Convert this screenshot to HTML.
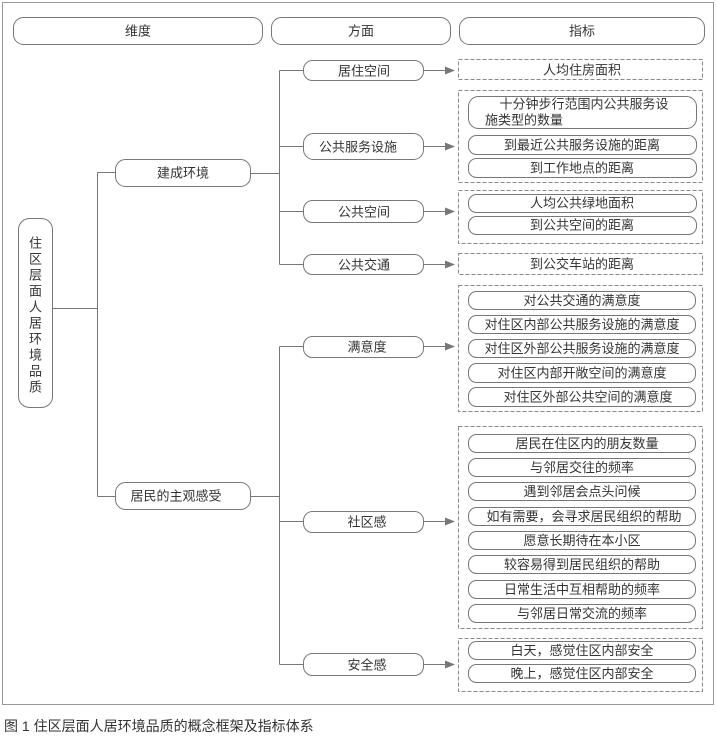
<!DOCTYPE html>
<html><head><meta charset="utf-8"><style>
body{margin:0;background:#fff}
text{font-family:"Liberation Sans","Noto Sans CJK SC",sans-serif;font-size:13px;fill:#333;text-anchor:middle;dominant-baseline:central}
.b{fill:#fff;stroke:#777;stroke-width:1}
.d{fill:none;stroke:#888;stroke-width:1;stroke-dasharray:4 2}
.l{stroke:#777;stroke-width:1;fill:none}
</style></head><body>
<svg width="717" height="737" xmlns="http://www.w3.org/2000/svg">
<rect x="2.5" y="2.5" width="711" height="702" fill="none" stroke="#999"/>
<rect class="b" x="13.5" y="17.5" width="249" height="27" rx="10"/><text x="138" y="31">维度</text>
<rect class="b" x="271.5" y="17.5" width="179" height="27" rx="10"/><text x="361" y="31">方面</text>
<rect class="b" x="459.5" y="17.5" width="245" height="27" rx="10"/><text x="582" y="31">指标</text>

<rect class="b" x="18.5" y="218.5" width="34" height="189" rx="11"/>
<text x="35.5" y="243">住</text><text x="35.5" y="259">区</text><text x="35.5" y="275">层</text><text x="35.5" y="291">面</text><text x="35.5" y="307">人</text><text x="35.5" y="323">居</text><text x="35.5" y="339">环</text><text x="35.5" y="355">境</text><text x="35.5" y="371">品</text><text x="35.5" y="387">质</text>
<path class="l" d="M53 308.5H97.5M97.5 172.5V496.5M97.5 172.5H115M97.5 496.5H115"/>
<rect class="b" x="115.5" y="159.5" width="135" height="27" rx="10"/><text x="183" y="173">建成环境</text>
<rect class="b" x="115.5" y="482.5" width="135" height="27" rx="10"/><text x="176" y="496">居民的主观感受</text>

<path class="l" d="M251 173.5H279.5M279.5 70.5V264.5M279.5 70.5H303M279.5 146.5H303M279.5 211.5H303M279.5 264.5H303"/>
<path class="l" d="M251 496.5H279.5M279.5 346.5V664.5M279.5 346.5H303M279.5 521.5H303M279.5 664.5H303"/>

<rect class="b" x="303.5" y="60.5" width="120" height="20" rx="9"/><text x="364" y="71">居住空间</text>
<rect class="b" x="303.5" y="133.5" width="120" height="26" rx="10"/><text x="358" y="147">公共服务设施</text>
<rect class="b" x="303.5" y="200.5" width="120" height="22" rx="9"/><text x="364" y="212">公共空间</text>
<rect class="b" x="303.5" y="254.5" width="120" height="20" rx="9"/><text x="364" y="265">公共交通</text>
<rect class="b" x="303.5" y="336.5" width="120" height="21" rx="9"/><text x="367" y="347">满意度</text>
<rect class="b" x="303.5" y="511.5" width="120" height="21" rx="9"/><text x="367" y="522">社区感</text>
<rect class="b" x="303.5" y="653.5" width="120" height="22" rx="9"/><text x="367" y="665">安全感</text>

<g fill="#777">
<path class="l" d="M424 70.5H447M424 146.5H447M424 211.5H447M424 264.5H447M424 346.5H447M424 521.5H447M424 664.5H447"/>
<path d="M445 66.5l10 4-10 4z"/><path d="M445 142.5l10 4-10 4z"/><path d="M445 207.5l10 4-10 4z"/><path d="M445 260.5l10 4-10 4z"/><path d="M445 342.5l10 4-10 4z"/><path d="M445 517.5l10 4-10 4z"/><path d="M445 660.5l10 4-10 4z"/>
</g>

<rect class="d" x="458.5" y="59.5" width="244" height="20"/><text x="582" y="70">人均住房面积</text>
<rect class="d" x="458.5" y="90.5" width="244" height="92"/>
<rect class="b" x="468.5" y="96.5" width="228" height="32" rx="10"/><text x="584" y="104">十分钟步行范围内公共服务设</text><text x="524" y="120">施类型的数量</text>
<rect class="b" x="468.5" y="135.5" width="228" height="19" rx="8"/><text x="582" y="145">到最近公共服务设施的距离</text>
<rect class="b" x="468.5" y="158.5" width="228" height="19" rx="8"/><text x="582" y="168">到工作地点的距离</text>
<rect class="d" x="458.5" y="190.5" width="244" height="53"/>
<rect class="b" x="468.5" y="194.5" width="228" height="18" rx="8"/><text x="582" y="203">人均公共绿地面积</text>
<rect class="b" x="468.5" y="216.5" width="228" height="18" rx="8"/><text x="582" y="225">到公共空间的距离</text>
<rect class="d" x="458.5" y="253.5" width="244" height="21"/><text x="582" y="264">到公交车站的距离</text>

<rect class="d" x="458.5" y="285.5" width="244" height="126"/>
<rect class="b" x="468.5" y="291.5" width="227" height="18" rx="8"/><text x="582" y="300.5">对公共交通的满意度</text>
<rect class="b" x="468.5" y="315.5" width="227" height="18" rx="8"/><text x="582" y="324.5">对住区内部公共服务设施的满意度</text>
<rect class="b" x="468.5" y="339.5" width="227" height="18" rx="8"/><text x="582" y="348.5">对住区外部公共服务设施的满意度</text>
<rect class="b" x="468.5" y="363.5" width="227" height="19" rx="8"/><text x="582" y="373">对住区内部开敞空间的满意度</text>
<rect class="b" x="468.5" y="387.5" width="227" height="19" rx="8"/><text x="588" y="397">对住区外部公共空间的满意度</text>

<rect class="d" x="458.5" y="426.5" width="244" height="202"/>
<rect class="b" x="468.5" y="434.5" width="227" height="18" rx="8"/><text x="587" y="443.5">居民在住区内的朋友数量</text>
<rect class="b" x="468.5" y="458.5" width="227" height="18" rx="8"/><text x="582" y="467.5">与邻居交往的频率</text>
<rect class="b" x="468.5" y="482.5" width="227" height="18" rx="8"/><text x="582" y="491.5">遇到邻居会点头问候</text>
<rect class="b" x="468.5" y="507.5" width="227" height="18" rx="8"/><text x="584" y="516.5">如有需要，会寻求居民组织的帮助</text>
<rect class="b" x="468.5" y="531.5" width="227" height="18" rx="8"/><text x="582" y="540.5">愿意长期待在本小区</text>
<rect class="b" x="468.5" y="555.5" width="227" height="18" rx="8"/><text x="582" y="564.5">较容易得到居民组织的帮助</text>
<rect class="b" x="468.5" y="580.5" width="227" height="18" rx="8"/><text x="582" y="589.5">日常生活中互相帮助的频率</text>
<rect class="b" x="468.5" y="604.5" width="227" height="18" rx="8"/><text x="582" y="613.5">与邻居日常交流的频率</text>

<rect class="d" x="458.5" y="638.5" width="244" height="53"/>
<rect class="b" x="468.5" y="641.5" width="227" height="18" rx="8"/><text x="582" y="650.5">白天，感觉住区内部安全</text>
<rect class="b" x="468.5" y="664.5" width="227" height="18" rx="8"/><text x="582" y="673.5">晚上，感觉住区内部安全</text>

<text x="4" y="726" style="text-anchor:start;font-size:14px">图 1  住区层面人居环境品质的概念框架及指标体系</text>
</svg>
</body></html>
